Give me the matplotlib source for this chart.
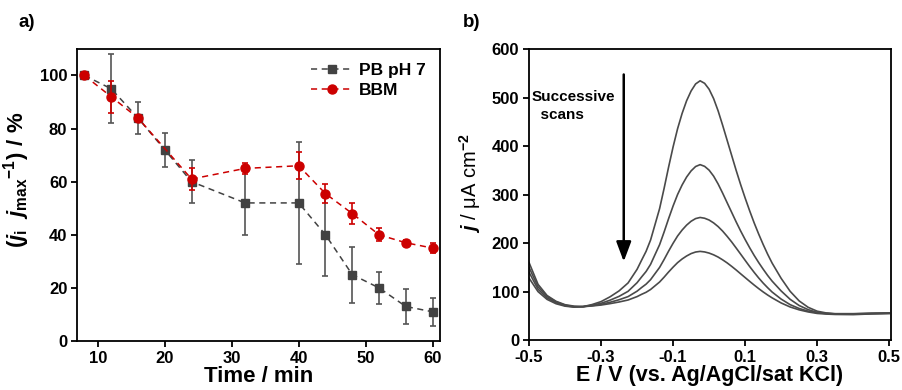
import matplotlib
matplotlib.use('Agg')
import matplotlib.pyplot as plt
from matplotlib.lines import Line2D

plt.rcParams['font.family'] = ['Liberation Sans', 'DejaVu Sans']
plt.rcParams['font.weight'] = 'bold'
plt.rcParams['mathtext.fontset'] = 'custom'
plt.rcParams['mathtext.rm'] = 'Liberation Sans:bold'
plt.rcParams['mathtext.bf'] = 'Liberation Sans:bold'
plt.rcParams['mathtext.it'] = 'Liberation Sans:italic:bold'

# panel a) normalised current vs time
PB_TIME = [8, 12, 16, 20, 24, 32, 40, 44, 48, 52, 56, 60]
PB_VAL = [100, 95, 84, 72, 60, 52, 52, 40, 25, 20, 13, 11]
PB_ERR = [0, 13, 6, 6.3, 8, 12, 23, 15.5, 10.5, 6, 6.7, 5.3]

BBM_TIME = [8, 12, 16, 24, 32, 40, 44, 48, 52, 56, 60]
BBM_VAL = [100, 92, 84, 61, 65, 66, 55.5, 48, 40, 37, 35]
BBM_ERR = [0, 6, 1, 4.3, 2, 5, 3.5, 3.8, 2.5, 1, 2]

# panel b) successive scans, E in V, j in uA cm-2
E = [-0.5, -0.475, -0.45, -0.425, -0.4, -0.375, -0.35, -0.325, -0.3, -0.275, -0.25, -0.225, -0.2,
     -0.1875, -0.175, -0.1625, -0.15, -0.1375, -0.125, -0.1125, -0.1, -0.0875, -0.075, -0.0625,
     -0.05, -0.0375, -0.025, -0.0125, 0.0, 0.0125, 0.025, 0.0375, 0.05, 0.0625, 0.075, 0.0875,
     0.1, 0.1125, 0.125, 0.1375, 0.15, 0.1625, 0.175,
     0.2, 0.225, 0.25, 0.275, 0.3, 0.325, 0.35, 0.4, 0.45, 0.5]
SCAN1 = [160, 115, 92, 80, 73, 70, 69, 73.3, 79.4, 89.3, 101.5, 117.9, 146,
         164.8, 183.1, 206.5, 238.8, 271.2, 312.9, 356.9, 398.6, 436.2, 467.6, 493.8,
         514, 528.5, 535, 529.8, 517.6, 498.3, 473, 443.4, 412.4, 381.4, 350.4, 320.9,
         293.2, 266.9, 242, 219, 197.4, 177.2, 158.8,
         127.4, 100.6, 80.8, 67.6, 59.6, 56, 54.5, 54.5, 55.5, 56]
SCAN2 = [150, 110, 90, 79, 72, 69, 69, 71.9, 75.9, 82.3, 90.2, 100.6, 118.4,
         130.2, 141.5, 156.3, 176.6, 196.8, 222.9, 250.5, 276.7, 300.4, 320, 336.4,
         349.1, 358.1, 362, 358.5, 350.6, 338.3, 322.1, 303.3, 283.5, 263.8, 244, 225.2,
         207.5, 190.7, 174.8, 160.1, 146.4, 133.4, 121.6,
         101.4, 84.1, 71.3, 62.8, 57.1, 55, 54, 54, 55, 55.5]
SCAN3 = [140, 105, 87, 77, 71, 68.5, 69, 71, 73.7, 78, 83.2, 89.7, 100.9,
         108.4, 115.4, 124.7, 137.3, 149.9, 166.2, 183.5, 199.8, 214.8, 227, 237.2,
         245.2, 250.7, 253, 251.4, 247.7, 241.8, 234.2, 224.9, 214.1, 202.6, 190.1, 177.4,
         164.6, 151.9, 139.8, 128.3, 117.7, 108.1, 99.1,
         84.6, 73.1, 65.2, 59.7, 56.4, 54.8, 53.9, 53.5, 54.5, 55]
SCAN4 = [128, 100, 84, 75, 70, 68, 69, 70.4, 72.3, 75.2, 78.6, 82.7, 89.7,
         94.4, 98.6, 104.4, 112.1, 119.8, 129.8, 140.5, 150.5, 159.8, 167.3, 173.5,
         178.5, 181.7, 183, 181.9, 179.5, 175.9, 171.3, 165.6, 159.3, 152.2, 144.7, 136.8,
         129, 121.2, 113.6, 106.3, 99.4, 93, 87.1,
         76.6, 68.3, 62.4, 58.1, 55, 53.7, 52.9, 52.5, 54, 55]

GREY = '#424242'
RED = '#cc0000'
CURVE = '#4a4a4a'
TICK_FS = 12
DASH = (0, (4, 3))


def style_axes(ax):
    for s in ax.spines.values():
        s.set_linewidth(1.3)
    ax.tick_params(direction='out', length=4, width=1.3, labelsize=TICK_FS, pad=3)
    for lab in ax.get_xticklabels() + ax.get_yticklabels():
        lab.set_fontweight('bold')


def main():
    fig = plt.figure(figsize=(9.02, 3.9), dpi=100)

    ax1 = fig.add_axes([0.0854, 0.1256, 0.4024, 0.749])
    ax1.errorbar(PB_TIME, PB_VAL, yerr=PB_ERR, color=GREY, ls=DASH, lw=1.1,
                 marker='s', ms=6, capsize=2.5, elinewidth=1.2, capthick=1.2,
                 ecolor='#555555', zorder=1)
    ax1.errorbar(BBM_TIME, BBM_VAL, yerr=BBM_ERR, color=RED, ls=DASH, lw=1.1,
                 marker='o', ms=6.5, capsize=2.5, elinewidth=1.2, capthick=1.2,
                 zorder=2)
    ax1.set_xlim(6.9, 61.1)
    ax1.set_ylim(0, 110)
    ax1.set_xticks([10, 20, 30, 40, 50, 60])
    ax1.set_yticks([0, 20, 40, 60, 80, 100])
    style_axes(ax1)
    ax1.set_xlabel('Time / min', fontsize=16, fontweight='bold', labelpad=0)
    ax1.set_ylabel(r'$(j_{\mathrm{i}}\ \ j_{\mathrm{max}}{}^{-1})\ /\ \%$', fontsize=16)
    ax1.yaxis.set_label_coords(-0.125, 0.55)
    handles = [Line2D([], [], color=GREY, ls=DASH, lw=1.1, marker='s', ms=6),
               Line2D([], [], color=RED, ls=DASH, lw=1.1, marker='o', ms=6.5)]
    ax1.legend(handles, ['PB pH 7', 'BBM'], loc='upper right', frameon=False,
               handlelength=2.4, handletextpad=0.4, labelspacing=0.3,
               borderaxespad=0.4, prop={'weight': 'bold', 'size': 12.5})
    fig.text(0.02, 0.93, 'a)', fontsize=13.5, fontweight='bold')

    ax2 = fig.add_axes([0.5865, 0.128, 0.4013, 0.7456])
    for scan in (SCAN1, SCAN2, SCAN3, SCAN4):
        ax2.plot(E, scan, color=CURVE, lw=1.2)
    ax2.set_xlim(-0.5, 0.505)
    ax2.set_ylim(0, 600)
    ax2.set_xticks([-0.5, -0.3, -0.1, 0.1, 0.3, 0.5])
    ax2.set_xticklabels(['-0.5', '-0.3', '-0.1', '0.1', '0.3', '0.5'])
    ax2.set_yticks(range(0, 601, 100))
    style_axes(ax2)
    ax2.set_xlabel('E / V (vs. Ag/AgCl/sat KCl)', fontsize=15.5, fontweight='bold', labelpad=0)
    ax2.set_ylabel(r'$j$ / μA cm$^{-2}$', fontsize=14.5)
    ax2.yaxis.set_label_coords(-0.127, 0.54)
    ax2.annotate('', xy=(-0.237, 162), xytext=(-0.237, 548),
                 arrowprops=dict(arrowstyle='-|>,head_length=1.2,head_width=0.45',
                                 color='black', lw=1.8, shrinkA=0, shrinkB=0))
    ax2.text(-0.493, 450, 'Successive\n  scans', fontsize=11, fontweight='bold',
             ha='left', va='bottom', linespacing=1.4)
    fig.text(0.513, 0.93, 'b)', fontsize=13.5, fontweight='bold')

    fig.savefig('out.png', dpi=100)


if __name__ == '__main__':
    main()
